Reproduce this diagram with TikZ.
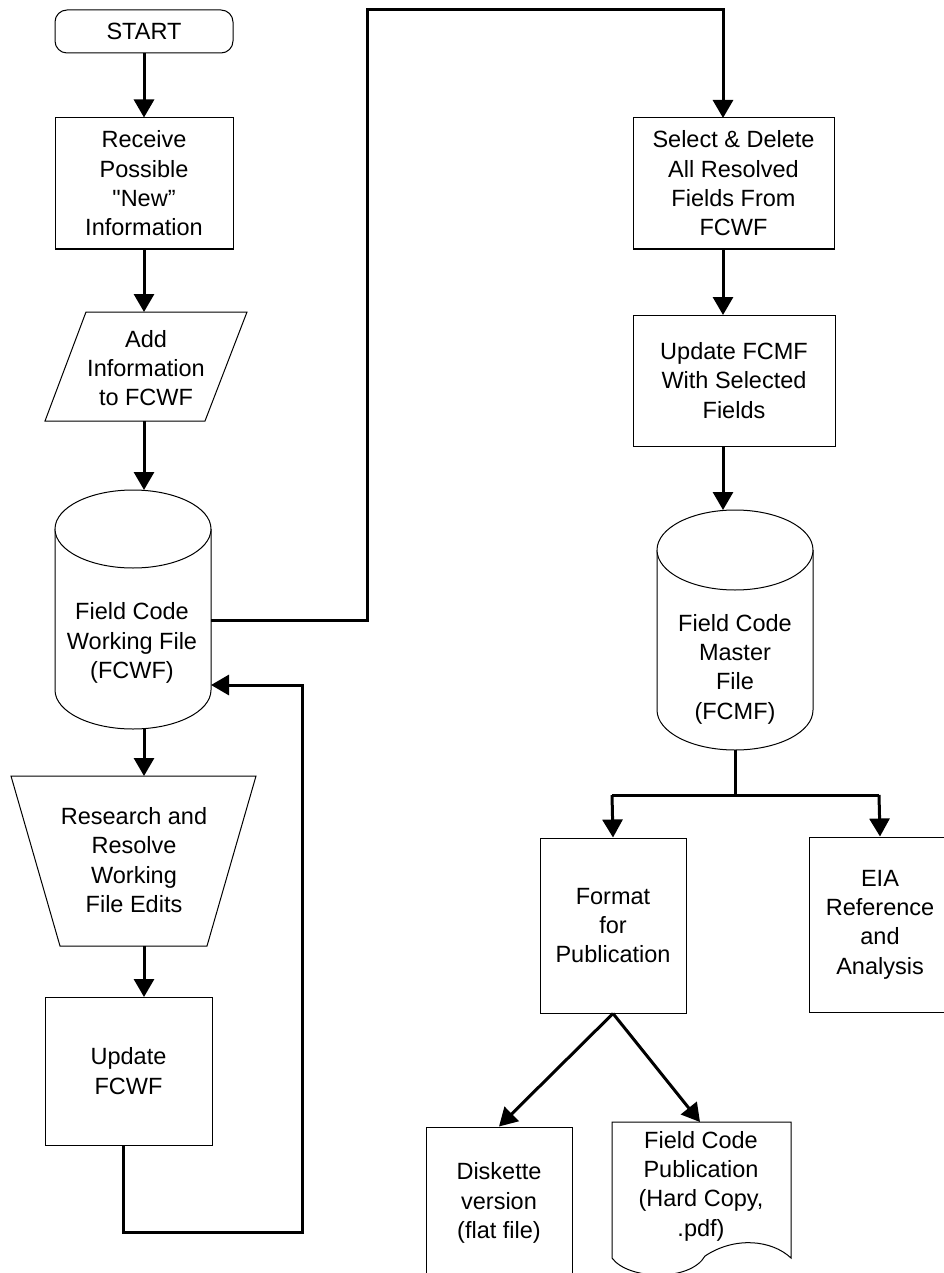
\documentclass[tikz,border=0pt]{standalone}
\usepackage{fontspec}
\setmainfont{Liberation Sans}
\newfontfamily\plainq{Liberation Sans}
\usetikzlibrary{arrows.meta}
\begin{document}
\begin{tikzpicture}[x=1pt,y=-1pt,
  shp/.style={draw=black, line width=1pt, fill=white},
  txt/.style={align=center, font=\fontsize{23.5}{29.3}\selectfont, inner sep=0pt},
  flow/.style={line width=3pt, -{Triangle[length=18pt,width=20pt]}},
  link/.style={line width=3pt}]
\useasboundingbox (0,0) rectangle (943,1273);

% ---------- left column ----------
\node[shp, txt, rounded corners=12pt, minimum width=178pt, minimum height=43pt] (start) at (144,31.5) {START};
\node[shp, txt, minimum width=178pt, minimum height=131pt] (receive) at (144,183.5) {Receive\\Possible\\{\plainq"}New”\\Information};

% parallelogram
\draw[shp] (86,312) -- (247,312) -- (205,421) -- (45,421) -- cycle;
\node[txt] (add) at (146,368) {Add\\Information\\to FCWF};
\coordinate (addN) at (144,312);
\coordinate (addS) at (144,421);

% cylinder FCWF
\draw[shp] (55,529) -- (55,690) arc[start angle=180, end angle=360, x radius=78pt, y radius=39pt] -- (211,529);
\draw[shp] (133,529) ellipse [x radius=78pt, y radius=39pt];
\node[txt] (fcwf) at (132,643) {Field Code\\Working File\\(FCWF)};
\coordinate (fcwfN) at (144,490);
\coordinate (fcwfS) at (144,729);
\coordinate (fcwfE1) at (211,620);
\coordinate (fcwfE2) at (211,685);

% trapezoid
\draw[shp] (11,776) -- (256,776) -- (207,946) -- (60,946) -- cycle;
\node[txt] (research) at (134,860) {Research and\\Resolve\\Working\\File Edits};
\coordinate (resN) at (144,776);
\coordinate (resS) at (144,946);

\node[shp, txt, minimum width=167pt, minimum height=148pt] (update) at (128.5,1071) {Update\\FCWF};
\coordinate (updN) at (144,997);
\coordinate (updS) at (123,1145);

% ---------- right column ----------
\node[shp, txt, minimum width=201pt, minimum height=131pt] (select) at (733.5,183.5) {Select \& Delete\\All Resolved\\Fields From\\FCWF};
\coordinate (selN) at (723,118);
\coordinate (selS) at (723,249);

\node[shp, txt, minimum width=202pt, minimum height=131pt] (updfcmf) at (734,380.5) {Update FCMF\\With Selected\\Fields};
\coordinate (ufN) at (723,315);
\coordinate (ufS) at (723,446);

% cylinder FCMF
\draw[shp] (657,550) -- (657,710) arc[start angle=180, end angle=360, x radius=78pt, y radius=40pt] -- (813,550);
\draw[shp] (735,550) ellipse [x radius=78pt, y radius=40pt];
\node[txt] (fcmf) at (735,669) {Field Code\\Master\\File\\(FCMF)};
\coordinate (fcmfN) at (723,510);
\coordinate (fcmfS) at (735,750);

\node[shp, txt, minimum width=146pt, minimum height=175pt] (format) at (613,925.5) {Format\\for\\Publication};
\node[shp, txt, minimum width=142pt, minimum height=175pt] (eia) at (880,924.5) {EIA\\Reference\\and\\Analysis};

\node[shp, minimum width=146pt, minimum height=153pt] (diskbox) at (499,1203.5) {};
\node[txt] (disk) at (499,1203) {Diskette\\version\\(flat file)};

\draw[shp] (612,1122) -- (791,1122) -- (791,1258)
  .. controls (772,1240) and (735,1236) .. (705,1256)
  .. controls (690,1282) and (628,1280) .. (612,1258) -- cycle;
\node[txt] (pub) at (701,1186) {Field Code\\Publication\\(Hard Copy,\\.pdf)};
\coordinate (pubN) at (700,1122);

% ---------- connectors ----------
\draw[flow] (start.south) -- (receive.north);
\draw[flow] (receive.south) -- (addN);
\draw[flow] (addS) -- (fcwfN);
\draw[flow] (fcwfS) -- (resN);
\draw[flow] (resS) -- (updN);
\draw[flow] (updS) -- (123,1232) -- (302,1232) -- (302,685) -- (fcwfE2);
\draw[flow] (fcwfE1) -- (367,620) -- (367,10) -- (723,10) -- (selN);
\draw[flow] (selS) -- (ufN);
\draw[flow] (ufS) -- (fcmfN);
\draw[link] (fcmfS) -- (735,795);
\draw[link] (612,795) -- (879,795);
\draw[flow] (612,795) -- (format.north);
\draw[flow] (879,795) -- (eia.north);
\draw[flow] (format.south) -- (diskbox.north);
\draw[flow] (format.south) -- (pubN);
\end{tikzpicture}
\end{document}
